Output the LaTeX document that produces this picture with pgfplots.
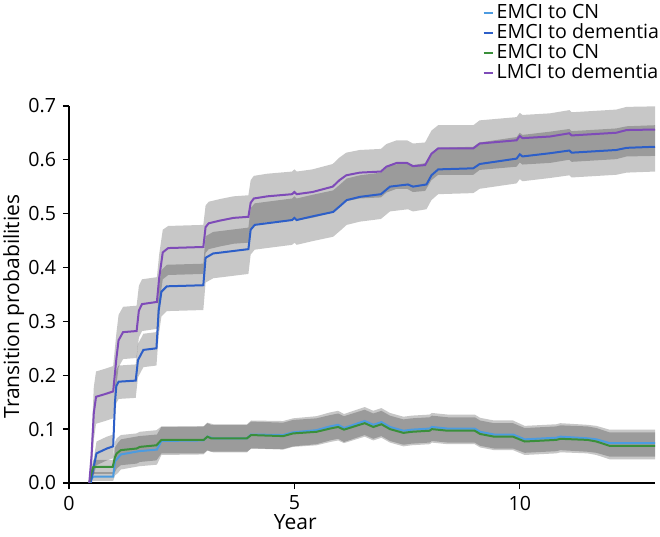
\documentclass[border=0pt]{standalone}
\usepackage{fontspec}
\setmainfont{Open Sans}
\usepackage{pgfplots}
\pgfplotsset{compat=1.18}
\usepackage{pgfplotstable}
\usepgfplotslibrary{fillbetween}

\definecolor{cnA}{RGB}{76,155,224}
\definecolor{demA}{RGB}{45,95,200}
\definecolor{cnB}{RGB}{58,143,58}
\definecolor{demB}{RGB}{126,75,184}

% EMCI to CN (light blue)
\pgfplotstableread{
x y lo hi
0.45 0.000 0.000 0.000
0.52 0.010 0.003 0.017
0.55 0.012 0.004 0.020
0.98 0.012 0.004 0.020
1.02 0.040 0.014 0.066
1.08 0.046 0.018 0.074
1.15 0.053 0.025 0.081
1.55 0.059 0.031 0.087
1.95 0.062 0.034 0.090
2.05 0.078 0.052 0.104
2.98 0.079 0.053 0.105
3.07 0.086 0.060 0.112
3.20 0.083 0.057 0.109
3.95 0.083 0.057 0.109
4.04 0.090 0.064 0.116
4.75 0.089 0.063 0.115
4.97 0.094 0.068 0.120
5.49 0.098 0.072 0.124
5.79 0.105 0.079 0.131
5.97 0.108 0.082 0.134
6.10 0.102 0.076 0.128
6.56 0.115 0.089 0.141
6.75 0.108 0.082 0.134
6.93 0.113 0.087 0.139
7.12 0.104 0.078 0.130
7.42 0.097 0.071 0.123
7.60 0.099 0.073 0.125
8.00 0.101 0.075 0.127
8.05 0.104 0.078 0.130
8.40 0.101 0.075 0.127
9.00 0.101 0.075 0.127
9.12 0.095 0.069 0.121
9.43 0.090 0.064 0.116
9.85 0.090 0.064 0.116
10.11 0.081 0.056 0.106
10.81 0.084 0.059 0.109
10.90 0.086 0.061 0.111
11.50 0.083 0.058 0.108
11.70 0.081 0.056 0.106
11.99 0.074 0.049 0.099
13.00 0.074 0.049 0.099
}\cnA

% EMCI to dementia (blue)
\pgfplotstableread{
x y lo hi
0.48 0.000 0.000 0.000
0.55 0.030 0.015 0.045
0.61 0.055 0.033 0.077
0.84 0.064 0.042 0.086
0.98 0.068 0.046 0.090
1.02 0.150 0.118 0.180
1.05 0.180 0.148 0.210
1.10 0.188 0.156 0.218
1.48 0.190 0.158 0.220
1.53 0.228 0.196 0.258
1.65 0.247 0.215 0.277
1.94 0.250 0.218 0.280
1.99 0.320 0.274 0.360
2.05 0.355 0.309 0.395
2.17 0.365 0.319 0.405
2.98 0.367 0.321 0.407
3.03 0.418 0.372 0.458
3.20 0.426 0.380 0.466
3.40 0.428 0.382 0.468
3.98 0.434 0.388 0.474
4.03 0.470 0.424 0.510
4.12 0.479 0.433 0.519
4.39 0.482 0.436 0.522
4.95 0.488 0.442 0.528
5.00 0.492 0.446 0.532
5.05 0.488 0.442 0.528
5.41 0.495 0.449 0.535
5.86 0.503 0.457 0.543
6.04 0.516 0.470 0.556
6.16 0.525 0.479 0.565
6.45 0.531 0.485 0.571
6.92 0.536 0.490 0.576
7.12 0.550 0.504 0.590
7.52 0.554 0.508 0.594
7.63 0.550 0.504 0.590
7.93 0.554 0.508 0.594
8.04 0.571 0.525 0.611
8.19 0.582 0.536 0.622
8.97 0.584 0.538 0.624
9.11 0.592 0.546 0.632
9.93 0.602 0.556 0.642
10.00 0.610 0.564 0.650
10.06 0.606 0.560 0.646
10.67 0.612 0.566 0.652
11.10 0.617 0.571 0.657
11.15 0.613 0.567 0.653
12.14 0.618 0.572 0.658
12.37 0.622 0.576 0.662
13.00 0.624 0.578 0.664
}\demA

% EMCI to CN (green)
\pgfplotstableread{
x y lo hi
0.45 0.000 0.000 0.000
0.50 0.020 0.010 0.030
0.54 0.030 0.017 0.043
0.97 0.030 0.017 0.043
1.02 0.048 0.020 0.076
1.06 0.055 0.027 0.083
1.15 0.061 0.033 0.089
1.50 0.064 0.036 0.092
1.57 0.067 0.039 0.095
1.94 0.070 0.042 0.098
2.05 0.080 0.055 0.105
2.99 0.080 0.055 0.105
3.07 0.086 0.061 0.111
3.15 0.083 0.058 0.108
3.95 0.083 0.058 0.108
4.04 0.089 0.064 0.114
4.75 0.087 0.062 0.112
4.97 0.092 0.067 0.117
5.49 0.095 0.070 0.120
5.79 0.101 0.076 0.126
5.97 0.104 0.079 0.129
6.10 0.099 0.074 0.124
6.56 0.111 0.086 0.136
6.75 0.104 0.079 0.129
6.93 0.109 0.084 0.134
7.12 0.100 0.075 0.125
7.42 0.093 0.068 0.118
7.60 0.095 0.070 0.120
8.00 0.097 0.072 0.122
8.05 0.100 0.075 0.125
8.40 0.097 0.072 0.122
9.00 0.097 0.072 0.122
9.12 0.091 0.066 0.116
9.43 0.086 0.061 0.111
9.85 0.086 0.061 0.111
10.11 0.077 0.052 0.102
10.81 0.080 0.055 0.105
10.90 0.082 0.057 0.107
11.50 0.080 0.055 0.105
11.70 0.077 0.052 0.102
11.99 0.069 0.044 0.094
13.00 0.069 0.044 0.094
}\cnB

% LMCI to dementia (purple)
\pgfplotstableread{
x y lo hi
0.45 0.000 0.000 0.000
0.50 0.050 0.020 0.080
0.55 0.130 0.080 0.178
0.60 0.160 0.110 0.207
0.80 0.165 0.115 0.212
0.98 0.170 0.120 0.217
1.05 0.230 0.180 0.277
1.10 0.265 0.215 0.312
1.20 0.280 0.230 0.327
1.50 0.282 0.232 0.329
1.55 0.320 0.270 0.366
1.62 0.332 0.282 0.378
1.95 0.336 0.286 0.382
2.00 0.380 0.330 0.424
2.08 0.428 0.378 0.470
2.20 0.436 0.386 0.477
2.98 0.438 0.388 0.479
3.03 0.475 0.427 0.515
3.10 0.482 0.434 0.522
3.35 0.487 0.439 0.527
3.65 0.492 0.444 0.532
3.98 0.494 0.446 0.534
4.03 0.520 0.472 0.562
4.10 0.528 0.480 0.570
4.40 0.532 0.484 0.574
4.95 0.536 0.488 0.578
5.00 0.540 0.492 0.582
5.05 0.536 0.488 0.578
5.40 0.540 0.492 0.582
5.85 0.550 0.502 0.592
6.00 0.562 0.514 0.604
6.15 0.571 0.523 0.613
6.45 0.576 0.528 0.618
6.92 0.578 0.530 0.620
7.04 0.587 0.539 0.629
7.27 0.594 0.546 0.636
7.50 0.594 0.546 0.636
7.63 0.588 0.540 0.630
7.90 0.590 0.542 0.632
8.04 0.611 0.562 0.654
8.19 0.621 0.572 0.664
8.97 0.621 0.572 0.664
9.11 0.630 0.581 0.673
9.93 0.636 0.587 0.679
10.00 0.644 0.595 0.687
10.06 0.640 0.591 0.683
10.67 0.643 0.594 0.686
11.10 0.649 0.600 0.692
11.15 0.645 0.596 0.688
12.14 0.650 0.601 0.693
12.37 0.655 0.606 0.698
13.00 0.656 0.607 0.699
}\demB

\begin{document}
\fontsize{9.8bp}{11.8bp}\selectfont
\begin{tikzpicture}
\begin{axis}[
  scale only axis, width=293bp, height=188.6bp,
  xmin=0, xmax=13, ymin=0, ymax=0.7,
  axis x line*=bottom, axis y line*=left,
  axis line style={line width=0.7bp, black, -},
  xtick={0,5,10}, ytick={0,0.1,0.2,0.3,0.4,0.5,0.6,0.7},
  tick align=outside, major tick length=3bp,
  tick style={line width=0.7bp, black},
  yticklabel style={/pgf/number format/.cd, fixed, fixed zerofill, precision=1},
  /pgf/number format/assume math mode=true,
  xlabel={Year}, ylabel={Transition probabilities},
  label style={font=\fontsize{10.5bp}{12.5bp}\selectfont},
  xlabel style={at={(axis description cs:0.386,0)}, anchor=base, yshift=-23bp},
  ylabel style={at={(axis description cs:-0.0853,0.468)}, anchor=base},
  legend style={at={(rel axis cs:1.023,1)}, anchor=south east, yshift=9bp,
    draw=none, fill=none, font=\fontsize{9.8bp}{11.5bp}\selectfont,
    row sep=0bp, nodes={inner ysep=0.3bp, inner xsep=1.5bp, text height=7.2bp, text depth=2.2bp}},
  legend cell align=left,
  legend image code/.code={\draw[#1, line width=1bp] (0bp,0bp) -- (4.5bp,0bp);},
]
% bands
\addplot[name path=a1, draw=none, forget plot] table[x=x, y=hi] {\cnA};
\addplot[name path=a2, draw=none, forget plot] table[x=x, y=lo] {\cnA};
\addplot[fill=black, fill opacity=0.22, draw=none, forget plot] fill between[of=a1 and a2];
\addplot[name path=b1, draw=none, forget plot] table[x=x, y=hi] {\demA};
\addplot[name path=b2, draw=none, forget plot] table[x=x, y=lo] {\demA};
\addplot[fill=black, fill opacity=0.22, draw=none, forget plot] fill between[of=b1 and b2];
\addplot[name path=c1, draw=none, forget plot] table[x=x, y=hi] {\cnB};
\addplot[name path=c2, draw=none, forget plot] table[x=x, y=lo] {\cnB};
\addplot[fill=black, fill opacity=0.22, draw=none, forget plot] fill between[of=c1 and c2];
\addplot[name path=d1, draw=none, forget plot] table[x=x, y=hi] {\demB};
\addplot[name path=d2, draw=none, forget plot] table[x=x, y=lo] {\demB};
\addplot[fill=black, fill opacity=0.22, draw=none, forget plot] fill between[of=d1 and d2];
% lines
\addplot[cnA, line width=1bp] table[x=x, y=y] {\cnA};
\addlegendentry{EMCI to CN}
\addplot[demA, line width=1bp] table[x=x, y=y] {\demA};
\addlegendentry{EMCI to dementia}
\addplot[cnB, line width=1bp] table[x=x, y=y] {\cnB};
\addlegendentry{EMCI to CN}
\addplot[demB, line width=1bp] table[x=x, y=y] {\demB};
\addlegendentry{LMCI to dementia}
\end{axis}
\pgfresetboundingbox
\path ([shift={(-34.5bp,-27bp)}]current axis.south west) rectangle ([shift={(295.5bp,241.5bp)}]current axis.south west);
\end{tikzpicture}
\end{document}
